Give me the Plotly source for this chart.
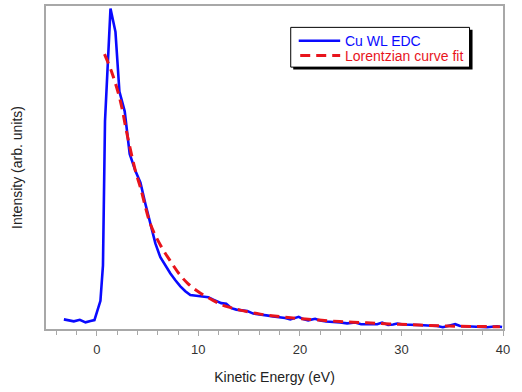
import plotly.graph_objects as go

# Measured EDC (blue)
edc_energy = [-3.24, -2.78, -2.26, -1.67, -1.11, -0.62, -0.23, 0.36, 0.61, 0.81, 1.35, 1.84, 2.23, 2.75,
              3.24, 3.81, 4.30, 4.79, 5.38, 5.77, 6.26, 6.75, 7.25, 7.74, 8.23, 8.72, 9.21, 9.80,
              10.39, 10.98, 11.47, 11.87, 12.26, 12.75, 13.25, 13.74, 14.23, 14.82, 15.41, 15.90,
              16.39, 16.88, 17.37, 18.06, 18.55, 19.05, 19.88, 20.32, 20.81, 21.50, 21.99, 22.58,
              23.27, 23.96, 24.65, 25.44, 26.03, 26.52, 27.02, 27.61, 28.10, 28.69, 29.18, 29.58,
              30.17, 30.86, 31.55, 32.14, 32.83, 33.52, 34.08, 34.70, 35.29, 35.78, 36.37, 36.86,
              37.45, 38.04, 38.44, 38.93, 39.42, 39.91]
edc_intensity = [2.98, 2.62, 2.37, 2.86, 2.06, 2.46, 2.77, 8.71, 19.7, 64.3, 99.2, 92.0, 73.5, 67.4,
                 54.2, 48.9, 45.3, 38.7, 30.8, 26.5, 22.2, 19.7, 17.2, 15.1, 13.2, 11.7, 10.5, 10.3,
                 10.0, 9.85, 9.08, 8.46, 8.0, 7.85, 6.46, 6.0, 5.69, 5.54, 4.77, 4.62,
                 4.52, 4.15, 3.85, 3.69, 3.38, 2.98, 3.78, 3.08, 2.68, 3.17, 2.62, 2.31,
                 2.25, 2.0, 1.75, 2.0, 1.45, 1.45, 1.54, 1.45, 2.0, 1.23, 1.38, 1.69,
                 1.38, 1.38, 1.23, 1.14, 1.02, 0.92, 0.55, 1.08, 1.48, 0.92, 0.83, 0.83,
                 0.71, 0.62, 0.52, 0.68, 0.83, 0.62]

# Lorentzian fit (red, dashed)
fit_energy = [0.76, 1.51, 2.33, 2.99, 3.81, 4.30, 5.28, 6.26, 7.25, 8.23, 9.0, 10.0, 11.2, 12.3,
              13.2, 14.1, 16.1, 18.1, 19.9, 21.9, 23.9, 25.9, 27.9, 29.8, 31.8, 33.8, 35.7, 37.7, 39.7]
fit_intensity = [85.1, 79.2, 70.5, 60.2, 48.9, 43.8, 32.5, 26.0, 21.0, 16.6, 14.0, 11.5, 9.3, 7.5,
                 6.6, 5.85, 4.6, 3.8, 3.2, 2.77, 2.3, 2.0, 1.7, 1.45, 1.23, 1.0, 0.86, 0.77, 0.68]

series_names = ["Cu WL EDC", "Lorentzian curve fit"]
x_major_ticks = [0, 10, 20, 30, 40]
x_tick_labels = ["0", "10", "20", "30", "40"]

FONT = "Liberation Sans, Arial, sans-serif"
AXIS_GRAY = "#a8a8a8"
BLUE = "#0a0aff"
RED = "#e8141c"
DASH = "10px,6px"

fig = go.Figure()
fig.add_trace(go.Scatter(
    x=edc_energy, y=edc_intensity, mode="lines", name=series_names[0],
    line=dict(color=BLUE, width=2.6), showlegend=False,
))
fig.add_trace(go.Scatter(
    x=fit_energy, y=fit_intensity, mode="lines", name=series_names[1],
    line=dict(color=RED, width=3, dash=DASH), line_shape="spline", showlegend=False,
))

# Plot area in pixels (page margin removed)
L, R, T, B = 45.5, 503.0, 4.0, 329.0
W, H = R - L, B - T
def px_x(p):
    return (p - L) / W
def px_y(p):
    return (B - p) / H

# Hand-drawn legend box with drop shadow
fig.add_shape(type="rect", xref="paper", yref="paper",
              x0=px_x(293), x1=px_x(472.5), y0=px_y(68), y1=px_y(28),
              fillcolor="black", line=dict(width=0), layer="above")
fig.add_shape(type="rect", xref="paper", yref="paper",
              x0=px_x(290.5), x1=px_x(469.5), y0=px_y(65.5), y1=px_y(25.5),
              fillcolor="white", line=dict(color="black", width=1), layer="above")
fig.add_shape(type="line", xref="paper", yref="paper",
              x0=px_x(298.5), x1=px_x(340), y0=px_y(39), y1=px_y(39),
              line=dict(color=BLUE, width=2.6), layer="above")
fig.add_shape(type="line", xref="paper", yref="paper",
              x0=px_x(300), x1=px_x(340), y0=px_y(53.7), y1=px_y(53.7),
              line=dict(color=RED, width=3, dash=DASH), layer="above")
fig.add_annotation(x=px_x(342.5), y=px_y(39), xref="paper", yref="paper",
                   text=series_names[0], showarrow=False, xanchor="left", yanchor="middle",
                   font=dict(family=FONT, size=14, color=BLUE))
fig.add_annotation(x=px_x(342.5), y=px_y(54), xref="paper", yref="paper",
                   text=series_names[1], showarrow=False, xanchor="left", yanchor="middle",
                   font=dict(family=FONT, size=14, color=RED))

fig.update_layout(
    width=522, height=392,
    margin=dict(l=L, r=522 - R, t=T, b=392 - B),
    paper_bgcolor="white", plot_bgcolor="white",
    font=dict(family=FONT, size=14, color="#222"),
    showlegend=False,
    xaxis=dict(
        range=[-5, 40], tickvals=x_major_ticks, ticktext=x_tick_labels,
        ticks="outside", ticklen=5, tickcolor=AXIS_GRAY, tickwidth=1,
        ticklabelstandoff=3,
        minor=dict(dtick=2, tick0=0, ticks="outside", ticklen=4, tickcolor=AXIS_GRAY),
        showline=True, linecolor=AXIS_GRAY, linewidth=1.5, mirror=True,
        showgrid=False, zeroline=False,
        tickfont=dict(family=FONT, size=13, color="#333"),
        title=dict(text="Kinetic Energy (eV)", font=dict(family=FONT, size=14, color="#222"), standoff=16),
    ),
    yaxis=dict(
        range=[0, 100], showticklabels=False, ticks="",
        showline=True, linecolor=AXIS_GRAY, linewidth=1.5, mirror=True,
        showgrid=False, zeroline=False,
        title=dict(text="Intensity (arb. units)", font=dict(family=FONT, size=14, color="#222"), standoff=18),
    ),
)

fig.write_html("out.html", config={"displayModeBar": False},
               post_script="document.body.style.margin='0';")
